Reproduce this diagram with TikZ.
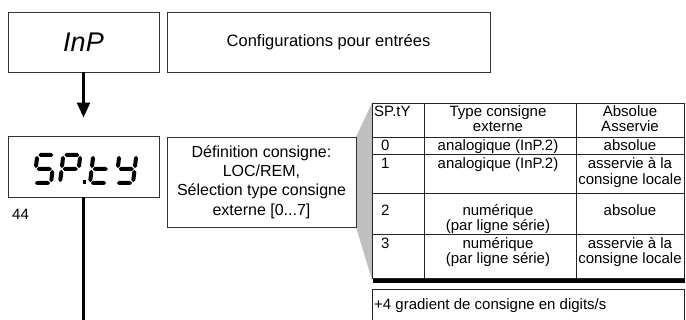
\documentclass[tikz,border=0pt]{standalone}
\usepackage{fontspec}
\setmainfont{Liberation Sans}
\usetikzlibrary{arrows.meta,calc}
\newcommand\lcdseg[5]{%
  \coordinate (lsA) at ({#1+#2+0.12*#3},{183-#3});
  \coordinate (lsB) at ({#1+#4+0.12*#5},{183-#5});
  \fill ($(lsA)!0.9pt!(lsB)$) -- ($($(lsA)!2.9pt!(lsB)$)!2pt!90:(lsB)$)
     -- ($($(lsB)!2.9pt!(lsA)$)!2pt!-90:(lsA)$) -- ($(lsB)!0.9pt!(lsA)$)
     -- ($($(lsB)!2.9pt!(lsA)$)!2pt!90:(lsA)$) -- ($($(lsA)!2.9pt!(lsB)$)!2pt!-90:(lsB)$) -- cycle;}
\newcommand\lcdA[1]{\lcdseg{#1}{0}{28}{17}{28}}
\newcommand\lcdB[1]{\lcdseg{#1}{17}{28}{17}{14}}
\newcommand\lcdC[1]{\lcdseg{#1}{17}{14}{17}{0}}
\newcommand\lcdD[1]{\lcdseg{#1}{0}{0}{17}{0}}
\newcommand\lcdE[1]{\lcdseg{#1}{0}{14}{0}{0}}
\newcommand\lcdF[1]{\lcdseg{#1}{0}{28}{0}{14}}
\newcommand\lcdG[1]{\lcdseg{#1}{0}{14}{17}{14}}
\begin{document}
\begin{tikzpicture}[x=1pt,y=-1pt,
  box/.style={draw=black!80, line width=0.9pt, inner sep=0pt, align=center},
  tab/.style={draw=black!85, line width=0.9pt},
  tt/.style={font=\fontsize{15}{15}\selectfont, anchor=base, inner sep=0pt},
  ttl/.style={tt, anchor=base west},
  conn/.style={line width=2.4pt}]
\useasboundingbox (0,0) rectangle (686,320);
% grey wedge
\fill[black!25] (356,137) -- (372,103) -- (372,280) -- (356,227) -- cycle;
% boxes
\node[box, minimum width=151pt, minimum height=60pt, font=\fontsize{27}{30}\selectfont\itshape] (inp) at (83.5,42) {InP};
\node[box, minimum width=323pt, minimum height=60pt, font=\fontsize{16.5}{19}\selectfont] (cfg) at (328.5,42) {Configurations pour entrées};
\node[box, minimum width=151pt, minimum height=61pt] (spty) at (83.5,166.5) {};
\node[box, minimum width=189pt, minimum height=90pt, font=\fontsize{16}{19.3}\selectfont] (def) at (261.5,182) {Définition consigne:\\LOC/REM,\\Sélection type consigne\\externe [0...7]};
\node[font=\fontsize{15}{18}\selectfont, anchor=base west, inner sep=0pt] (num) at (12,220) {44};
% seven segment SP.tY
\lcdA{34}\lcdF{34}\lcdG{34}\lcdC{34}\lcdD{34}
\lcdA{60}\lcdB{60}\lcdF{60}\lcdG{60}\lcdE{60}
\fill (82.5,180.5) rectangle (86,184.5);
\lcdF{90}\lcdE{90}\lcdG{90}\lcdD{90}
\lcdF{116}\lcdB{116}\lcdG{116}\lcdC{116}\lcdD{116}
% connectors
\coordinate (bot) at (83.5,320);
\draw[conn, -{Triangle[length=15pt,width=13pt]}, shorten >=18pt] (inp.south) -- (spty.north);
\draw[conn] (spty.south) -- (bot);
% table
\fill (373,278) rectangle (685,283.5);
\draw[tab, fill=white] (372,103) rectangle (684,278);
\draw[tab] (424,103) -- (424,278) (576,103) -- (576,278);
\draw[tab] (372,137) -- (684,137) (372,154) -- (684,154) (372,193) -- (684,193) (372,234) -- (684,234);
% table text
\node[ttl] (h1) at (374,117) {SP.tY};
\node[tt] (h2a) at (498,117) {Type consigne};
\node[tt] (h2b) at (498,131.5) {externe};
\node[tt] (h3a) at (630,117) {Absolue};
\node[tt] (h3b) at (630,131.5) {Asservie};
\node[ttl] (r0a) at (381,150.5) {0};
\node[tt] (r0b) at (498,150.5) {analogique (InP.2)};
\node[tt] (r0c) at (630,150.5) {absolue};
\node[ttl] (r1a) at (381,169) {1};
\node[tt] (r1b) at (498,169) {analogique (InP.2)};
\node[tt] (r1c) at (630,169) {asservie à la};
\node[tt] (r1d) at (630,184.5) {consigne locale};
\node[ttl] (r2a) at (381,216) {2};
\node[tt] (r2b) at (498,216) {numérique};
\node[tt] (r2c) at (630,216) {absolue};
\node[tt] (r2d) at (498,231) {(par ligne série)};
\node[ttl] (r3a) at (381,249) {3};
\node[tt] (r3b) at (498,249) {numérique};
\node[tt] (r3c) at (630,249) {asservie à la};
\node[tt] (r3d) at (498,264) {(par ligne série)};
\node[tt] (r3e) at (630,264) {consigne locale};
% bottom box
\draw[tab] (372,321) -- (372,289) -- (684,289) -- (684,321);
\node[ttl] (grad) at (374,310) {+4 gradient de consigne en digits/s};
\end{tikzpicture}
\end{document}
